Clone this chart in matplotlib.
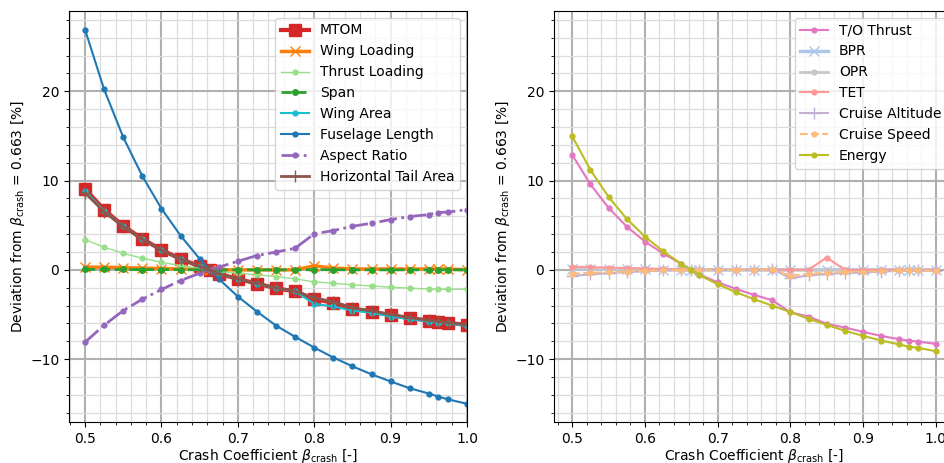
import numpy as np
import matplotlib
matplotlib.use("Agg")
import matplotlib.pyplot as plt
from matplotlib.ticker import AutoMinorLocator

# crash coefficient sweep, 0.663 is the reference design
beta = [0.5, 0.525, 0.55, 0.575, 0.6, 0.625, 0.65, 0.663, 0.675, 0.7, 0.725, 0.75,
        0.775, 0.8, 0.825, 0.85, 0.875, 0.9, 0.925, 0.95, 0.9625, 0.975, 1.0]

# left panel: airframe parameters [%]
mtom = [9.07, 6.72, 4.93, 3.47, 2.24, 1.23, 0.4, 0, -0.45, -1.0, -1.55, -2.06,
        -2.42, -3.25, -3.7, -4.37, -4.67, -5.08, -5.4, -5.68, -5.79, -5.94, -6.17]
wing_loading = [0.3, 0.3, 0.25, 0.2, 0.15, 0.1, 0.05, 0, 0, 0, 0, 0,
                0, 0.45, 0.2, 0.1, 0.1, 0.1, 0.1, 0.1, 0.1, 0.1, 0.0]
thrust_loading = [3.39, 2.53, 1.86, 1.3, 0.85, 0.48, 0.2, 0, -0.2, -0.38, -0.56, -0.75,
                  -1.0, -1.35, -1.5, -1.68, -1.8, -1.94, -2.05, -2.15, -2.17, -2.17, -2.17]
span = [0.05, 0.05, 0.04, 0.03, 0.03, 0.02, 0.01, 0, 0, 0, 0, 0,
        0, 0.02, 0.01, 0, 0, 0, 0, 0, 0, 0, 0]
wing_area = [8.88, 6.6, 4.88, 3.42, 2.22, 1.22, 0.4, 0, -0.45, -1.0, -1.55, -2.06,
             -2.42, -3.8, -4.1, -4.56, -4.8, -5.23, -5.53, -5.79, -5.9, -6.0, -6.3]
fuselage_length = [26.9, 20.2, 14.85, 10.5, 6.86, 3.84, 1.23, 0, -1.0, -2.99, -4.67, -6.24,
                   -7.5, -8.7, -9.82, -10.8, -11.7, -12.5, -13.26, -13.85, -14.2, -14.5, -15.0]
aspect_ratio = [-8.1, -6.2, -4.56, -3.29, -2.2, -1.2, -0.38, 0, 0.3, 0.96, 1.6, 2.0,
                2.42, 4.03, 4.4, 4.88, 5.22, 5.63, 5.97, 6.19, 6.42, 6.47, 6.75]
htail_area = [8.62, 6.5, 4.82, 3.4, 2.2, 1.2, 0.4, 0, -0.45, -1.0, -1.5, -2.0,
              -2.4, -3.15, -3.55, -4.25, -4.6, -5.0, -5.35, -5.65, -5.78, -5.9, -6.15]

# right panel: engine / mission parameters [%]
to_thrust = [12.88, 9.59, 6.94, 4.85, 3.17, 1.83, 0.67, 0, -0.53, -1.39, -2.13, -2.8,
             -3.4, -4.75, -5.23, -6.05, -6.46, -6.95, -7.4, -7.77, -7.92, -8.03, -8.29]
bpr = [0.1, 0.08, 0.06, 0.05, 0.04, 0.02, 0.01, 0, 0, 0, 0, 0,
       0, 0, 0, 0, 0, 0, 0, 0, 0, 0, 0]
opr = [0.2, 0.15, 0.12, 0.1, 0.07, 0.05, 0.02, 0, 0, 0, 0, 0,
       0, 0, 0, 0, 0, 0, 0, 0, 0, 0, 0]
tet = [0.37, 0.3, 0.26, 0.2, 0.15, 0.1, 0.05, 0, 0, 0, 0, 0,
       0, 0, 0.02, 1.38, 0, 0, 0, 0, 0, 0, 0]
cruise_altitude = [-0.67, -0.52, -0.37, -0.26, -0.15, -0.07, -0.03, 0, 0, 0, 0, 0,
                   0.1, -0.93, -0.63, -0.45, -0.37, -0.3, -0.2, -0.1, -0.07, -0.05, -0.1]
cruise_speed = [-0.45, -0.33, -0.26, -0.2, -0.1, -0.07, 0, 0, 0, 0, 0, 0,
                0.05, -0.67, -0.45, -0.3, -0.26, -0.2, -0.15, -0.07, -0.05, -0.04, -0.15]
energy = [14.96, 11.2, 8.17, 5.71, 3.73, 2.08, 0.67, 0, -0.6, -1.61, -2.5, -3.29,
          -4.0, -4.73, -5.49, -6.16, -6.83, -7.39, -7.92, -8.36, -8.6, -8.73, -9.11]

ylabel = r'Deviation from $\beta_{\mathrm{crash}}$ = 0.663 [%]'
xlabel = r'Crash Coefficient $\beta_{\mathrm{crash}}$ [-]'

plt.rcParams['font.size'] = 10

fig = plt.figure(figsize=(9.44, 4.63), dpi=100)
ax1 = fig.add_axes([0.0731, 0.0875, 0.4216, 0.8888])
ax2 = fig.add_axes([0.5869, 0.0875, 0.4237, 0.8888], sharey=ax1)

ax1.plot(beta, mtom, color='#d62728', marker='s', ms=8, lw=3, label='MTOM')
ax1.plot(beta, wing_loading, color='#ff7f0e', marker='x', ms=7, lw=2.5, label='Wing Loading')
ax1.plot(beta, thrust_loading, color='#98df8a', marker='.', ms=7, lw=1, label='Thrust Loading')
ax1.plot(beta, span, color='#2ca02c', marker='o', ms=4, lw=2, ls='--', label='Span')
ax1.plot(beta, wing_area, color='#17becf', marker='.', ms=7, lw=1.5, label='Wing Area')
ax1.plot(beta, fuselage_length, color='#1f77b4', marker='.', ms=7, lw=1.5, label='Fuselage Length')
ax1.plot(beta, aspect_ratio, color='#9467bd', marker='.', ms=7, lw=2, ls='-.', label='Aspect Ratio')
ax1.plot(beta, htail_area, color='#8c564b', marker='+', ms=8, lw=2, label='Horizontal Tail Area')

ax2.plot(beta, to_thrust, color='#e377c2', marker='.', ms=7, lw=1.5, label='T/O Thrust')
ax2.plot(beta, bpr, color='#aec7e8', marker='x', ms=7, lw=2.5, label='BPR')
ax2.plot(beta, opr, color='#c7c7c7', marker='.', ms=7, lw=2, label='OPR')
ax2.plot(beta, tet, color='#ff9896', marker='.', ms=7, lw=1.5, label='TET')
ax2.plot(beta, cruise_altitude, color='#c5b0d5', marker='+', ms=8, lw=1.5, label='Cruise Altitude')
ax2.plot(beta, cruise_speed, color='#ffbb78', marker='.', ms=7, lw=1.5, ls='--', label='Cruise Speed')
ax2.plot(beta, energy, color='#bcbd22', marker='.', ms=7, lw=1.5, label='Energy')

ax1.set_xlim(0.479, 1.0)
ax2.set_xlim(0.475, 1.025)

for ax in (ax1, ax2):
    ax.set_xticks([0.5, 0.6, 0.7, 0.8, 0.9, 1.0])
    ax.set_yticks([-10, 0, 10, 20])
    ax.xaxis.set_minor_locator(AutoMinorLocator())
    ax.yaxis.set_minor_locator(AutoMinorLocator())
    ax.set_axisbelow(True)
    ax.grid(which='major', color='#b0b0b0', lw=1.5)
    ax.grid(which='minor', color='#dcdcdc', lw=0.9)
    ax.set_xlabel(xlabel, labelpad=0.5)
    ax.set_ylabel(ylabel, labelpad=2)
    ax.tick_params(labelleft=True)
    ax.legend(loc='upper right')

fig.savefig('out.png', dpi=100)
